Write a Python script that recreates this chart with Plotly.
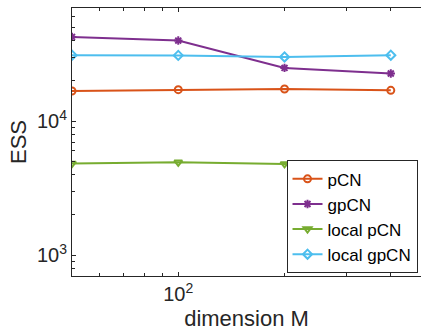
import numpy as np
import plotly.graph_objects as go

# dimension of the problem
dims = [50, 100, 200, 400]

# effective sample size per method
ess_pcn = [16800, 17200, 17400, 17000]
ess_gpcn = [42600, 40000, 25000, 22700]
ess_local_pcn = [4830, 4940, 4800, 4720]
ess_local_gpcn = [31100, 31000, 30200, 31100]

series = [
    ("pCN", ess_pcn, "#D95319", "circle-open"),
    ("gpCN", ess_gpcn, "#7E2F8E", "asterisk-open"),
    ("local pCN", ess_local_pcn, "#77AC30", "triangle-down-open"),
    ("local gpCN", ess_local_gpcn, "#4DBEEE", "diamond-open"),
]

fig = go.Figure()
for name, vals, color, sym in series:
    fig.add_trace(go.Scatter(
        x=dims, y=vals, name=name, mode="lines+markers",
        line=dict(color=color, width=2),
        marker=dict(symbol=sym, size=7, color=color,
                    line=dict(color=color, width=2)),
    ))

axis_color = "#262626"
font_family = "Liberation Sans, Arial, sans-serif"

fig.update_layout(
    width=421, height=336,
    margin=dict(l=72, r=0, t=8, b=60),
    paper_bgcolor="white", plot_bgcolor="white",
    font=dict(family=font_family, color=axis_color, size=18),
    showlegend=True,
    legend=dict(
        x=0.99, y=0.01, xanchor="right", yanchor="bottom",
        bgcolor="white", bordercolor=axis_color, borderwidth=1,
        font=dict(size=17, color="black"),
        tracegroupgap=0, itemwidth=30,
    ),
)

fig.update_xaxes(
    type="log",
    range=[np.log10(50), np.log10(50) + 349 / 353],
    showgrid=False, zeroline=False,
    showline=True, linecolor=axis_color, linewidth=1, mirror="ticks",
    ticks="inside", ticklen=4, tickcolor=axis_color,
    tickvals=[100], ticktext=["10<sup>2</sup>"],
    tickfont=dict(size=20),
    minor=dict(tickvals=[60, 70, 80, 90, 200, 300, 400],
               ticks="inside", ticklen=3, tickcolor=axis_color),
    title=dict(text="dimension M", font=dict(size=22), standoff=6),
)

fig.update_yaxes(
    type="log",
    range=[np.log10(700), np.log10(70000)],
    showgrid=False, zeroline=False,
    showline=True, linecolor=axis_color, linewidth=1, mirror=False,
    ticks="inside", ticklen=4, tickcolor=axis_color,
    tickvals=[1000, 10000], ticktext=["10<sup>3</sup>", "10<sup>4</sup>"],
    tickfont=dict(size=20),
    minor=dict(tickvals=[800, 900, 2000, 3000, 4000, 5000, 6000, 7000,
                         8000, 9000, 20000, 30000, 40000, 50000, 60000],
               ticks="inside", ticklen=3, tickcolor=axis_color),
    title=dict(text="ESS", font=dict(size=22), standoff=4),
)

fig.write_html("out.html")
